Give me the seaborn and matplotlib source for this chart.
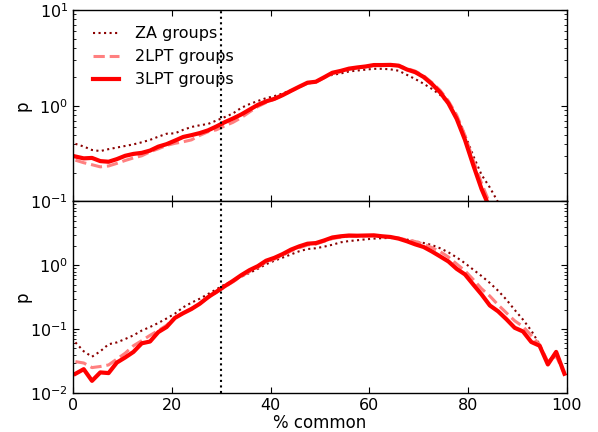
import numpy as np
import matplotlib
matplotlib.use('Agg')
import matplotlib.pyplot as plt
import seaborn as sns

# % common bins (bin centres)
pct = np.linspace(0.5, 99.5, 60)

# top panel
top_za = [0.40, 0.375, 0.345, 0.336, 0.352, 0.366, 0.38, 0.395, 0.415, 0.44,
          0.475, 0.51, 0.515, 0.56, 0.60, 0.625, 0.645, 0.70, 0.76, 0.83,
          0.95, 1.04, 1.12, 1.2, 1.26, 1.34, 1.45, 1.58, 1.72, 1.75,
          2.0, 2.1, 2.17, 2.28, 2.33, 2.38, 2.43, 2.43, 2.4, 2.32,
          2.1, 1.9, 1.7, 1.5, 1.3, 1.05, 0.78, 0.5, 0.3, 0.19,
          0.14, 0.098, 0.07, np.nan, np.nan, np.nan, np.nan, np.nan, np.nan, np.nan]
top_2lpt = [0.27, 0.254, 0.242, 0.23, 0.235, 0.25, 0.268, 0.285, 0.30, 0.33,
            0.355, 0.385, 0.405, 0.42, 0.44, 0.49, 0.535, 0.56, 0.615, 0.67,
            0.75, 0.86, 0.98, 1.08, 1.17, 1.28, 1.42, 1.57, 1.72, 1.77,
            1.96, 2.17, 2.27, 2.4, 2.48, 2.55, 2.64, 2.66, 2.68, 2.62,
            2.45, 2.3, 2.06, 1.75, 1.45, 1.12, 0.8, 0.49, 0.27, 0.155,
            0.095, 0.055, 0.03, np.nan, np.nan, np.nan, np.nan, np.nan, np.nan, np.nan]
top_3lpt = [0.295, 0.282, 0.285, 0.264, 0.26, 0.277, 0.30, 0.314, 0.322, 0.34,
            0.374, 0.397, 0.432, 0.472, 0.493, 0.518, 0.553, 0.607, 0.672, 0.735,
            0.81, 0.91, 1.02, 1.11, 1.18, 1.29, 1.43, 1.58, 1.74, 1.78,
            1.98, 2.21, 2.31, 2.44, 2.51, 2.57, 2.66, 2.66, 2.67, 2.62,
            2.39, 2.24, 2.0, 1.69, 1.38, 1.06, 0.73, 0.44, 0.24, 0.135,
            0.085, 0.045, 0.025, np.nan, np.nan, np.nan, np.nan, np.nan, np.nan, np.nan]

# bottom panel
bot_za = [0.062, 0.045, 0.037, 0.045, 0.058, 0.062, 0.07, 0.08, 0.095, 0.108,
          0.125, 0.147, 0.175, 0.22, 0.26, 0.30, 0.355, 0.42, 0.50, 0.57,
          0.66, 0.76, 0.88, 1.04, 1.18, 1.32, 1.48, 1.66, 1.8, 1.85,
          1.96, 2.1, 2.29, 2.4, 2.47, 2.55, 2.62, 2.66, 2.69, 2.62,
          2.53, 2.38, 2.24, 2.08, 1.85, 1.6, 1.33, 1.08, 0.855, 0.68,
          0.53, 0.4, 0.29, 0.2, 0.141, 0.095, 0.058, 0.03, 0.044, 0.02]
bot_2lpt = [0.031, 0.0295, 0.025, 0.026, 0.0275, 0.034, 0.042, 0.055, 0.066, 0.08,
            0.095, 0.115, 0.15, 0.18, 0.21, 0.25, 0.31, 0.375, 0.46, 0.55,
            0.67, 0.8, 0.93, 1.12, 1.25, 1.43, 1.68, 1.88, 2.08, 2.15,
            2.38, 2.62, 2.76, 2.85, 2.86, 2.9, 2.9, 2.83, 2.78, 2.67,
            2.5, 2.36, 2.15, 1.9, 1.64, 1.35, 1.05, 0.82, 0.6, 0.43,
            0.33, 0.24, 0.18, 0.135, 0.11, 0.08, 0.057, 0.031, 0.038, 0.02]
bot_3lpt = [0.020, 0.0236, 0.0155, 0.021, 0.0205, 0.030, 0.036, 0.044, 0.06, 0.064,
            0.09, 0.108, 0.15, 0.178, 0.207, 0.25, 0.317, 0.385, 0.47, 0.57,
            0.70, 0.84, 0.97, 1.18, 1.31, 1.5, 1.76, 1.98, 2.18, 2.23,
            2.45, 2.73, 2.85, 2.93, 2.91, 2.93, 2.95, 2.85, 2.78, 2.62,
            2.38, 2.13, 1.94, 1.65, 1.38, 1.15, 0.88, 0.72, 0.5, 0.35,
            0.235, 0.19, 0.143, 0.105, 0.092, 0.063, 0.055, 0.028, 0.044, 0.020]

labels = ['ZA groups', '2LPT groups', '3LPT groups']
cut = 30

plt.rcParams.update({
    'xtick.direction': 'in', 'ytick.direction': 'in',
    'xtick.top': True, 'ytick.right': True,
    'xtick.major.size': 4, 'ytick.major.size': 4,
    'xtick.minor.size': 2, 'ytick.minor.size': 2,
    'axes.linewidth': 1.0,
})
plt.rcParams['font.family'] = ['DejaVu Sans']

fig = plt.figure(figsize=(5.98, 4.32), dpi=100)
ax1 = fig.add_axes([0.122, 0.5336, 0.826, 0.4433])
ax2 = fig.add_axes([0.122, 0.0903, 0.826, 0.4433])

styles = [dict(color='#8b0000', linestyle=':', lw=1.5),
          dict(color='#ff8080', linestyle='--', lw=2.2),
          dict(color='red', linestyle='-', lw=3)]

for ax, series in [(ax1, [top_za, top_2lpt, top_3lpt]),
                   (ax2, [bot_za, bot_2lpt, bot_3lpt])]:
    for vals, lab, st in zip(series, labels, styles):
        sns.lineplot(x=pct, y=np.array(vals), ax=ax, label=lab,
                     estimator=None, sort=False, **st)
    ax.axvline(cut, color='black', linestyle=':', lw=1.5)
    ax.set_yscale('log')
    ax.set_xlim(0, 100)
    ax.set_xticks([0, 20, 40, 60, 80, 100])
    ax.set_ylabel('p', fontsize=12, labelpad=-1)
    ax.tick_params(labelsize=11.5)

ax1.set_ylim(0.1, 10)
ax1.set_xticklabels([])
ax1.set_xlabel('')
ax1.legend(loc='upper left', bbox_to_anchor=(0.012, 0.99), frameon=False,
           fontsize=11.5, handlelength=1.6, handletextpad=1.0)

ax2.set_ylim(0.01, 10)
ax2.set_yticks([0.01, 0.1, 1, 10])
ax2.set_yticklabels(['$10^{-2}$', '$10^{-1}$', '$10^{0}$', ''])
ax2.set_xlabel('% common', fontsize=12, labelpad=1)
ax2.get_legend().remove()

fig.savefig('out.png', dpi=100)
